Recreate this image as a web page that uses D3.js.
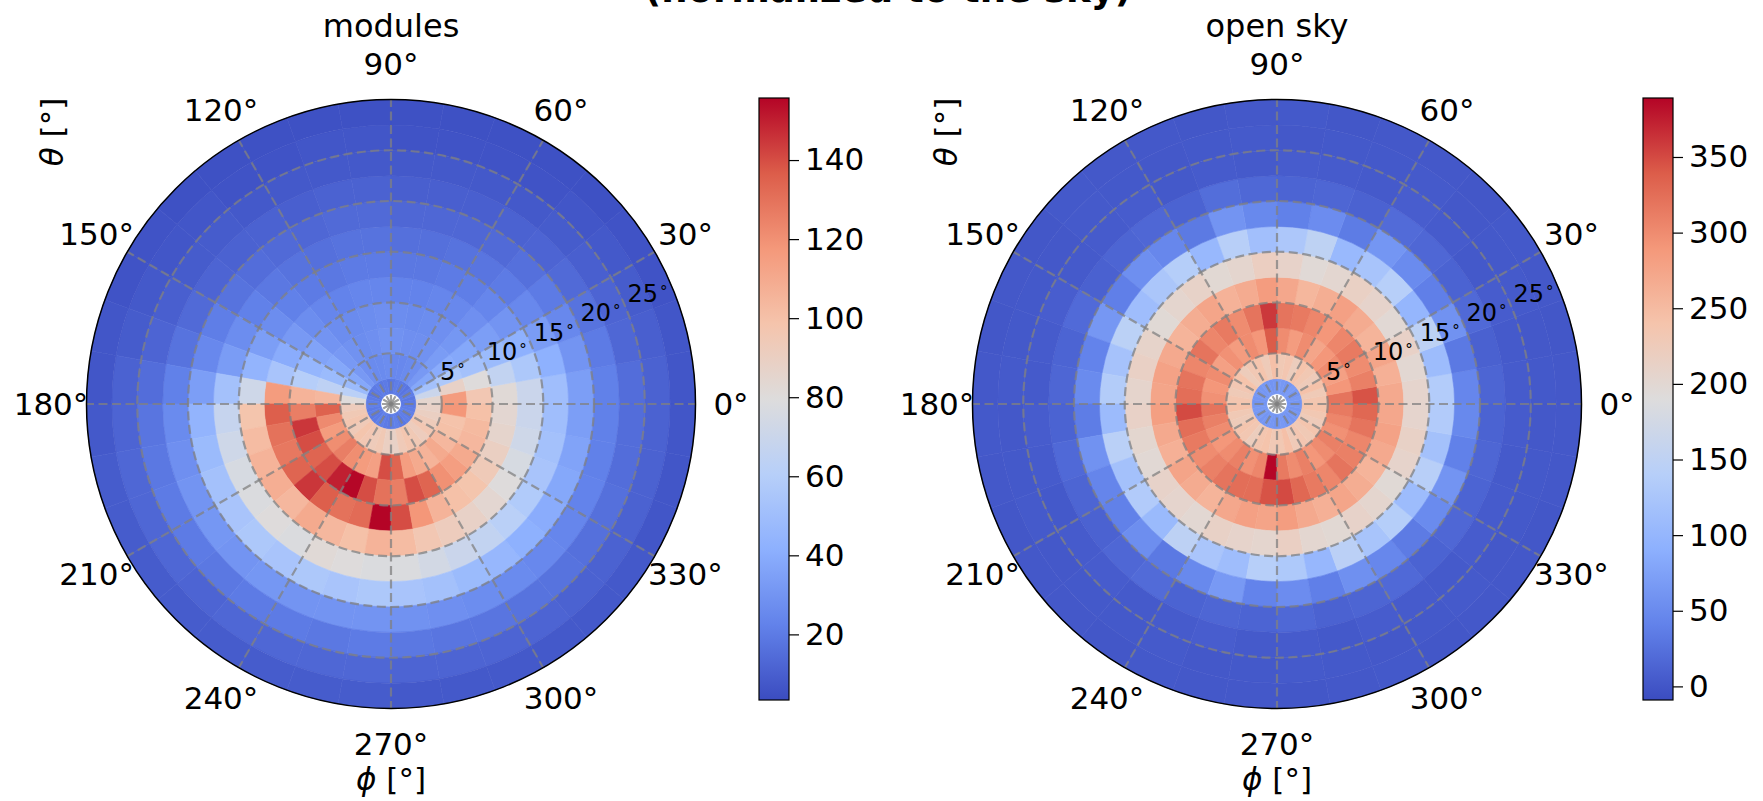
<!DOCTYPE html>
<html>
<head>
<meta charset="utf-8">
<script src="https://cdn.jsdelivr.net/npm/d3@7"></script>
<style>
  html, body { margin: 0; background: #fff; }
  svg { display: block; font-family: "DejaVu Sans", sans-serif; }
</style>
</head>
<body>
<svg id="chart" width="1763" height="801"></svg>
<script>
// ── Data ──────────────────────────────────────────────
// bins: 36 azimuth bins of 10° (phi), 12 zenith rings of 2.5° (theta)
const phiEdges   = d3.range(0, 361, 10);
const thetaEdges = [1, 2.5, 5, 7.5, 10, 12.5, 15, 17.5, 20, 22.5, 25, 27.5, 30];
const phiTicks   = [0, 30, 60, 90, 120, 150, 180, 210, 240, 270, 300, 330];
const thetaTicks = [5, 10, 15, 20, 25];

// modules: one array per theta ring, 36 phi bins each (0-10°, 10-20°, ...)
const modulesRing0  = [20,19,21,20,18,19,20,21,19,18,20,19,21,20,19,18,20,21,22,20,21,19,20,22,21,20,19,21,22,20,19,21,20,22,21,20];
const modulesRing1  = [85,70,52,38,32,28,26,25,25,27,26,26,28,32,38,48,62,80,92,95,97,94,98,96,93,95,90,88,94,97,95,92,96,93,90,88];
const modulesRing2  = [116,88,56,40,33,29,28,28,29,30,28,27,29,32,38,48,64,104,135,122,116,121,126,121,116,114,140,134,115,110,106,110,104,100,99,118];
const modulesRing3  = [96,80,52,38,31,28,27,26,27,28,27,26,27,30,36,45,60,106,126,145,140,134,140,150,155,140,130,126,140,134,120,115,110,104,103,100];
const modulesRing4  = [82,66,48,34,28,25,24,23,23,24,24,23,24,27,32,40,54,116,136,130,128,134,145,136,130,132,156,140,118,106,100,98,94,90,86,84];
const modulesRing5  = [70,56,42,30,24,21,20,19,19,20,20,19,20,22,27,34,44,72,98,102,106,108,104,110,104,100,106,102,96,92,88,84,80,76,72,70];
const modulesRing6  = [50,42,33,25,20,18,17,16,16,17,17,16,17,19,22,27,33,52,68,72,76,78,80,78,82,80,78,78,74,70,66,62,58,54,52,50];
const modulesRing7  = [34,30,25,20,16,14,13,13,13,14,14,13,14,15,17,21,25,34,44,48,52,54,56,54,56,54,56,54,52,48,46,42,40,38,36,34];
const modulesRing8  = [22,20,17,14,12,11,10,10,10,11,11,10,11,11,12,14,17,22,26,28,30,31,30,31,30,30,30,29,28,27,26,25,24,23,22,22];
const modulesRing9  = [15,13,12,10,9,8,8,8,8,8,8,8,8,9,9,10,12,15,18,19,20,20,19,20,20,19,20,19,18,18,17,17,16,16,15,15];
const modulesRing10 = [11,10,9,8,7,6,6,6,6,7,7,6,6,7,7,8,9,11,12,13,13,13,12,13,13,13,13,12,12,12,12,11,11,11,11,11];
const modulesRing11 = [7,7,6,6,5,5,5,5,5,5,5,5,5,5,6,6,7,7,8,9,9,9,9,9,9,9,9,8,8,8,8,8,8,7,7,7];
const modulesRings = [modulesRing0, modulesRing1, modulesRing2, modulesRing3, modulesRing4, modulesRing5,
                      modulesRing6, modulesRing7, modulesRing8, modulesRing9, modulesRing10, modulesRing11];

// open sky
const skyRing0  = [62,66,60,64,68,63,61,65,67,62,60,64,66,63,61,65,62,60,64,66,63,67,61,62,65,64,60,63,66,62,64,61,65,63,60,64];
const skyRing1  = [236,228,242,225,232,240,222,235,230,244,226,238,231,224,240,233,228,236,242,230,226,238,234,222,236,240,229,232,244,227,235,230,238,225,232,240];
const skyRing2  = [320,290,280,300,290,275,300,285,300,340,290,300,285,295,280,300,290,295,320,310,300,290,300,310,295,305,388,315,300,310,290,300,310,295,305,315];
const skyRing3  = [345,310,300,315,305,290,305,315,320,360,320,300,315,305,320,305,320,325,350,325,315,300,310,320,325,325,345,350,330,315,305,320,310,305,320,330];
const skyRing4  = [270,262,275,258,268,280,265,255,272,285,268,260,275,266,258,270,278,275,282,270,262,276,268,258,272,280,276,284,270,262,275,266,258,270,278,272];
const skyRing5  = [206,200,212,198,208,215,202,196,210,218,204,199,211,205,197,209,214,207,212,203,198,210,206,200,213,208,204,216,202,199,210,205,197,208,213,206];
const skyRing6  = [135,110,148,100,140,122,105,150,128,115,142,104,138,126,112,146,120,136,108,144,118,134,106,148,125,112,140,130,102,145,122,138,110,142,118,134];
const skyRing7  = [45,32,58,38,50,62,35,52,40,48,60,33,46,55,38,64,42,50,36,58,44,40,54,32,48,66,42,52,38,56,46,34,50,60,40,48];
const skyRing8  = [14,10,18,12,16,20,11,15,13,17,22,12,16,14,10,19,13,15,12,18,14,11,16,20,12,15,13,17,11,14,18,12,16,13,15,12];
const skyRing9  = [5,4,6,3,5,7,4,5,6,4,5,3,6,5,4,7,5,4,6,5,3,5,6,4,5,7,4,5,3,6,5,4,6,5,4,5];
const skyRing10 = [3,2,4,3,2,4,3,3,2,4,3,2,3,4,2,3,3,4,2,3,4,2,3,3,4,2,3,4,3,2,3,4,2,3,3,2];
const skyRing11 = [2,1,2,3,1,2,2,1,3,2,1,2,2,3,1,2,1,2,3,2,1,2,2,1,3,2,2,1,2,3,1,2,2,1,2,2];
const skyRings = [skyRing0, skyRing1, skyRing2, skyRing3, skyRing4, skyRing5,
                  skyRing6, skyRing7, skyRing8, skyRing9, skyRing10, skyRing11];

const modulesRange = [3.4, 155.7];
const skyRange     = [-9, 389];
const modulesTicks = [20, 40, 60, 80, 100, 120, 140];
const skyTicks     = [0, 50, 100, 150, 200, 250, 300, 350];

// ── Colormap (coolwarm) ───────────────────────────────
const coolwarmStops = [
  [0.0,   '#3b4cc0'],
  [0.125, '#6282ea'],
  [0.25,  '#8db0fe'],
  [0.375, '#b7cff9'],
  [0.5,   '#dddcdc'],
  [0.625, '#f5c4ac'],
  [0.75,  '#f4987a'],
  [0.875, '#dc5d4a'],
  [1.0,   '#b40426'],
];

function coolwarm([lo, hi]) {
  return d3.scaleLinear()
    .domain(coolwarmStops.map(s => lo + s[0] * (hi - lo)))
    .range(coolwarmStops.map(s => s[1]))
    .interpolate(d3.interpolateRgb)
    .clamp(true);
}

// ── Layout ────────────────────────────────────────────
const svg = d3.select('#chart');
const R = 304.5;
const labelFont = 31;
const defs = svg.append('defs');

// big figure title, mostly cut off by the top edge
svg.append('text')
  .attr('x', 888).attr('y', 2)
  .attr('text-anchor', 'middle')
  .attr('font-size', 37).attr('font-weight', 'bold')
  .text('(normalized to the sky)');

function drawPolar(cx, cy, title, rings, range, thetaLabelX) {
  const g = svg.append('g').attr('transform', `translate(${cx},${cy})`);
  const r = d3.scaleLinear().domain([0, 30]).range([0, R]);
  const ang = d3.scaleLinear().domain([0, 360]).range([Math.PI / 2, Math.PI / 2 - 2 * Math.PI]);
  const color = coolwarm(range);
  const arc = d3.arc();

  const cells = [];
  rings.forEach((row, j) => row.forEach((v, k) => cells.push({
    r0: r(thetaEdges[j]), r1: r(thetaEdges[j + 1]),
    a0: ang(phiEdges[k + 1]), a1: ang(phiEdges[k]), v
  })));

  g.append('g').selectAll('path')
    .data(cells)
    .join('path')
    .attr('d', d => arc({ innerRadius: d.r0, outerRadius: d.r1, startAngle: d.a0, endAngle: d.a1 }))
    .attr('fill', d => color(d.v))
    .attr('stroke', d => color(d.v))
    .attr('stroke-width', 0.6);

  // grid
  const grid = g.append('g')
    .attr('fill', 'none')
    .attr('stroke', '#808080')
    .attr('stroke-opacity', 0.75)
    .attr('stroke-width', 2.2)
    .attr('stroke-dasharray', '9,4.5');

  grid.selectAll('circle')
    .data(thetaTicks)
    .join('circle')
    .attr('r', d => r(d));

  grid.selectAll('line')
    .data(phiTicks)
    .join('line')
    .attr('x1', 0).attr('y1', 0)
    .attr('x2', d => R * Math.cos(d * Math.PI / 180))
    .attr('y2', d => -R * Math.sin(d * Math.PI / 180));

  g.append('circle')
    .attr('r', R)
    .attr('fill', 'none')
    .attr('stroke', '#000')
    .attr('stroke-width', 1.5);

  // phi tick labels
  g.append('g').selectAll('text')
    .data(phiTicks)
    .join('text')
    .attr('x', d => (R + 35.5) * Math.cos(d * Math.PI / 180))
    .attr('y', d => -(R + 35.5) * Math.sin(d * Math.PI / 180))
    .attr('text-anchor', 'middle')
    .attr('dominant-baseline', 'central')
    .attr('font-size', labelFont)
    .text(d => d + '°');

  // theta tick labels along 22.5°
  const rl = 22.5 * Math.PI / 180;
  const tl = g.append('g').selectAll('text')
    .data(thetaTicks)
    .join('text')
    .attr('x', d => r(d) * Math.cos(rl) + 2)
    .attr('y', d => -r(d) * Math.sin(rl) - 5)
    .attr('font-size', 24);
  tl.append('tspan').text(d => d);
  tl.append('tspan').attr('font-size', 15).attr('dy', -5).attr('dx', 2).text('°');

  // titles / axis labels
  g.append('text')
    .attr('x', 0).attr('y', 37 - cy)
    .attr('text-anchor', 'middle')
    .attr('font-size', 32)
    .text(title);

  const yl = svg.append('text')
    .attr('transform', `translate(${thetaLabelX},132) rotate(-90)`)
    .attr('text-anchor', 'middle')
    .attr('dominant-baseline', 'central')
    .attr('font-size', labelFont);
  yl.append('tspan').attr('font-style', 'italic').text('θ');
  yl.append('tspan').text(' [°]');

  const xl = g.append('text')
    .attr('x', 0).attr('y', 779 - cy)
    .attr('text-anchor', 'middle')
    .attr('dominant-baseline', 'central')
    .attr('font-size', labelFont);
  xl.append('tspan').attr('font-style', 'italic').text('ϕ');
  xl.append('tspan').text(' [°]');
}

function drawColorbar(x, id, range, ticks) {
  const top = 98, bottom = 700, w = 30;
  const grad = defs.append('linearGradient')
    .attr('id', id)
    .attr('x1', 0).attr('y1', 1).attr('x2', 0).attr('y2', 0);
  grad.selectAll('stop')
    .data(coolwarmStops)
    .join('stop')
    .attr('offset', d => d[0])
    .attr('stop-color', d => d[1]);

  svg.append('rect')
    .attr('x', x).attr('y', top)
    .attr('width', w).attr('height', bottom - top)
    .attr('fill', `url(#${id})`)
    .attr('stroke', '#000')
    .attr('stroke-width', 1.2);

  const y = d3.scaleLinear().domain(range).range([bottom, top]);
  const ax = svg.append('g')
    .attr('transform', `translate(${x + w},0)`)
    .call(d3.axisRight(y).tickValues(ticks).tickSize(10).tickPadding(6));
  ax.select('.domain').remove();
  ax.selectAll('.tick line').attr('stroke', '#000').attr('stroke-width', 1.2);
  ax.selectAll('.tick text')
    .attr('font-size', labelFont)
    .attr('font-family', '"DejaVu Sans", sans-serif')
    .attr('fill', '#000');
}

drawPolar(391, 404, 'modules', modulesRings, modulesRange, 52);
drawPolar(1277, 404, 'open sky', skyRings, skyRange, 946);
drawColorbar(759, 'cb-modules', modulesRange, modulesTicks);
drawColorbar(1643, 'cb-sky', skyRange, skyTicks);
</script>
</body>
</html>
